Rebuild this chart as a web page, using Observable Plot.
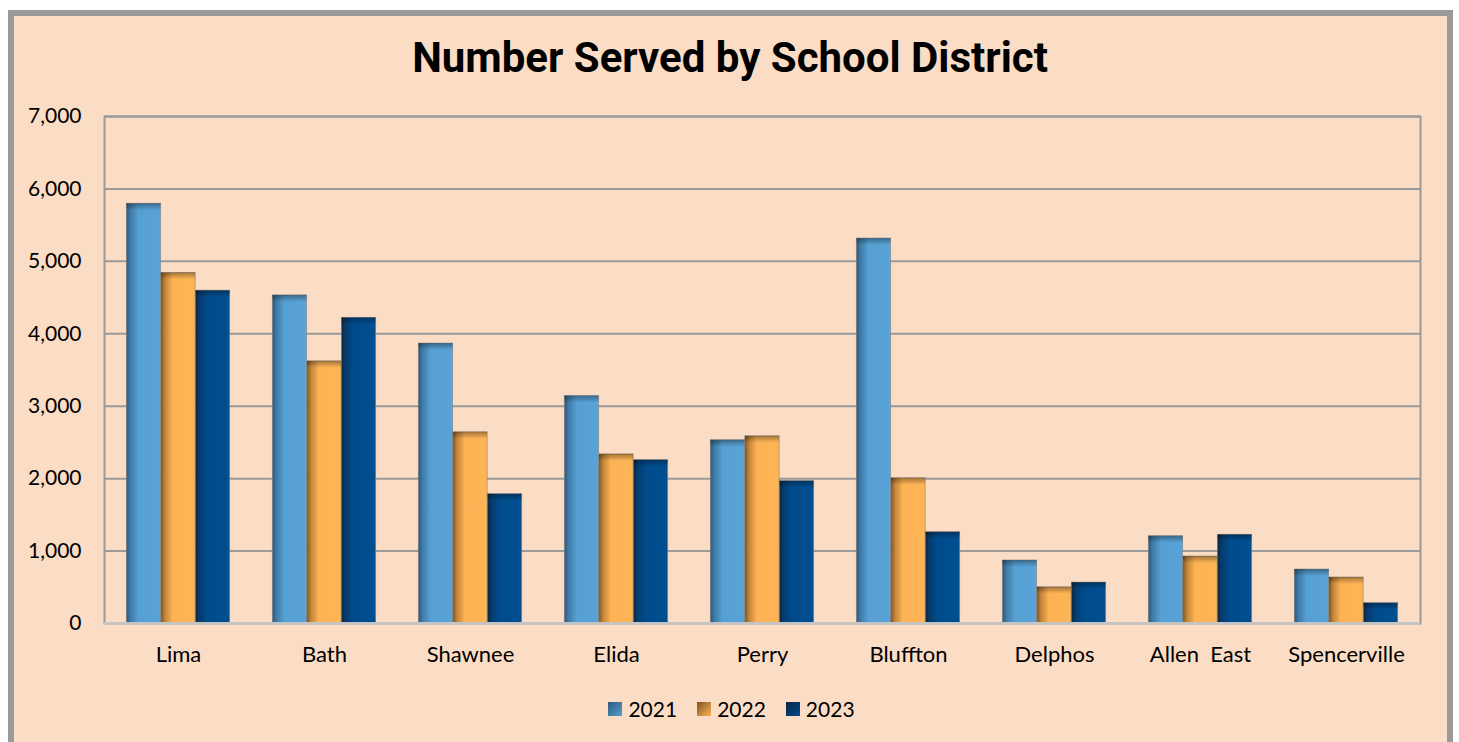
<!DOCTYPE html>
<html><head><meta charset="utf-8">
<script src="https://cdn.jsdelivr.net/npm/d3@7"></script>
<script src="https://cdn.jsdelivr.net/npm/@observablehq/plot@0.6"></script>
<style>
html,body{margin:0;padding:0;background:#fff;width:1459px;height:742px;overflow:hidden;}
#frame{position:absolute;left:8px;top:10px;width:1445px;height:800px;box-sizing:border-box;border:6px solid #9a9a9a;background:#FBDCC5;}
#title{position:absolute;left:0;width:1460px;top:37px;text-align:center;font-family:Roboto;font-weight:700;font-size:42px;color:#000;line-height:1;}
#chart{position:absolute;left:14px;top:90px;}
#chart svg text{white-space:pre;}
#legend{position:absolute;left:0;width:1463px;top:696px;display:flex;justify-content:center;font-family:Lato;font-size:21px;color:#000;}
.item{display:flex;align-items:center;margin:0 10px;}
.sw{width:14px;height:14px;margin-right:6px;}
</style></head>
<body>
<svg width="0" height="0" style="position:absolute">
<defs>
<linearGradient id="g2021" x1="0" x2="1" y1="0" y2="0">
<stop offset="0" stop-color="#2d5878"/><stop offset="0.12" stop-color="#3f7ba6"/><stop offset="0.35" stop-color="#559fd3"/><stop offset="1" stop-color="#5aa3d8"/>
</linearGradient>
<linearGradient id="g2022" x1="0" x2="1" y1="0" y2="0">
<stop offset="0" stop-color="#7e5421"/><stop offset="0.12" stop-color="#c2853a"/><stop offset="0.35" stop-color="#fdb254"/><stop offset="1" stop-color="#fdb556"/>
</linearGradient>
<linearGradient id="g2023" x1="0" x2="1" y1="0" y2="0">
<stop offset="0" stop-color="#0a2640"/><stop offset="0.12" stop-color="#063c6c"/><stop offset="0.35" stop-color="#004b8c"/><stop offset="1" stop-color="#004f91"/>
</linearGradient>
<linearGradient id="shade" x1="0" x2="0" y1="0" y2="1">
<stop offset="0" stop-color="#000" stop-opacity="0.35"/><stop offset="1" stop-color="#000" stop-opacity="0"/>
</linearGradient>
</defs>
</svg>
<div id="frame"></div>
<div id="title">Number Served by School District</div>
<div id="chart"></div>
<div id="legend"></div>
<script>
const districts = ["Lima","Bath","Shawnee","Elida","Perry","Bluffton","Delphos","Allen  East","Spencerville"];
const years = ["2021","2022","2023"];
const values2021 = [5795, 4530, 3865, 3140, 2530, 5315, 870, 1205, 745];
const values2022 = [4840, 3620, 2640, 2335, 2585, 2005, 500, 925, 635];
const values2023 = [4595, 4220, 1785, 2255, 1965, 1260, 565, 1225, 280];
const yTicks = [0,1000,2000,3000,4000,5000,6000,7000];
const seriesColors = {
  "2021": ["#2d5878","#559fd3"],
  "2022": ["#7e5421","#fdb254"],
  "2023": ["#0a2640","#004b8c"]
};

const rows = districts.map((d, i) => ({district: d, v2021: values2021[i], v2022: values2022[i], v2023: values2023[i]}));

const W = 1430, H = 590, ML = 90, MR = 24, MT = 26, MB = 57;
const step = (W - ML - MR) / districts.length;
const barFrac = 0.236;
const bw = step * barFrac;
const pad = (step - 3 * bw) / 2;

const barMarks = years.flatMap((yr, k) => {
  const insetLeft = pad + k * bw;
  const insetRight = step - (pad + (k + 1) * bw);
  return [
    Plot.barY(rows, {x: "district", y: "v" + yr, fill: `url(#g${yr})`, insetLeft, insetRight, stroke: "#7f7f7f", strokeOpacity: 0.7, strokeWidth: 0.8}),
    Plot.barY(rows, {x: "district", y1: "v" + yr, y2: "v" + yr, insetLeft, insetRight, insetBottom: -7, fill: "url(#shade)"})
  ];
});

const chart = Plot.plot({
  width: W, height: H,
  marginLeft: ML, marginRight: MR, marginTop: MT, marginBottom: MB,
  style: {background: "transparent", fontFamily: "Lato", fontSize: "21px", color: "#000"},
  x: {domain: districts, padding: 0, label: null},
  y: {domain: [0, 7000], label: null},
  marks: [
    Plot.gridY(yTicks, {stroke: "#9a9a9a", strokeOpacity: 1, strokeWidth: 2}),
    Plot.frame({stroke: "#9a9a9a", strokeWidth: 2}),
    ...barMarks,
    Plot.ruleY([0], {stroke: "#c4c4c4", strokeWidth: 3}),
    Plot.axisY(yTicks, {tickSize: 0, tickPadding: 23, tickFormat: d3.format(","), label: null, fontSize: 21}),
    Plot.axisX({tickSize: 0, tickPadding: 23, label: null, fontSize: 22})
  ]
});
document.getElementById("chart").appendChild(chart);

const legend = document.getElementById("legend");
years.forEach(yr => {
  const item = document.createElement("div");
  item.className = "item";
  const sw = document.createElement("div");
  sw.className = "sw";
  sw.style.background = `linear-gradient(135deg, ${seriesColors[yr][0]} 0%, ${seriesColors[yr][1]} 100%)`;
  const t = document.createElement("span");
  t.textContent = yr;
  item.appendChild(sw); item.appendChild(t);
  legend.appendChild(item);
});
</script>
</body></html>
